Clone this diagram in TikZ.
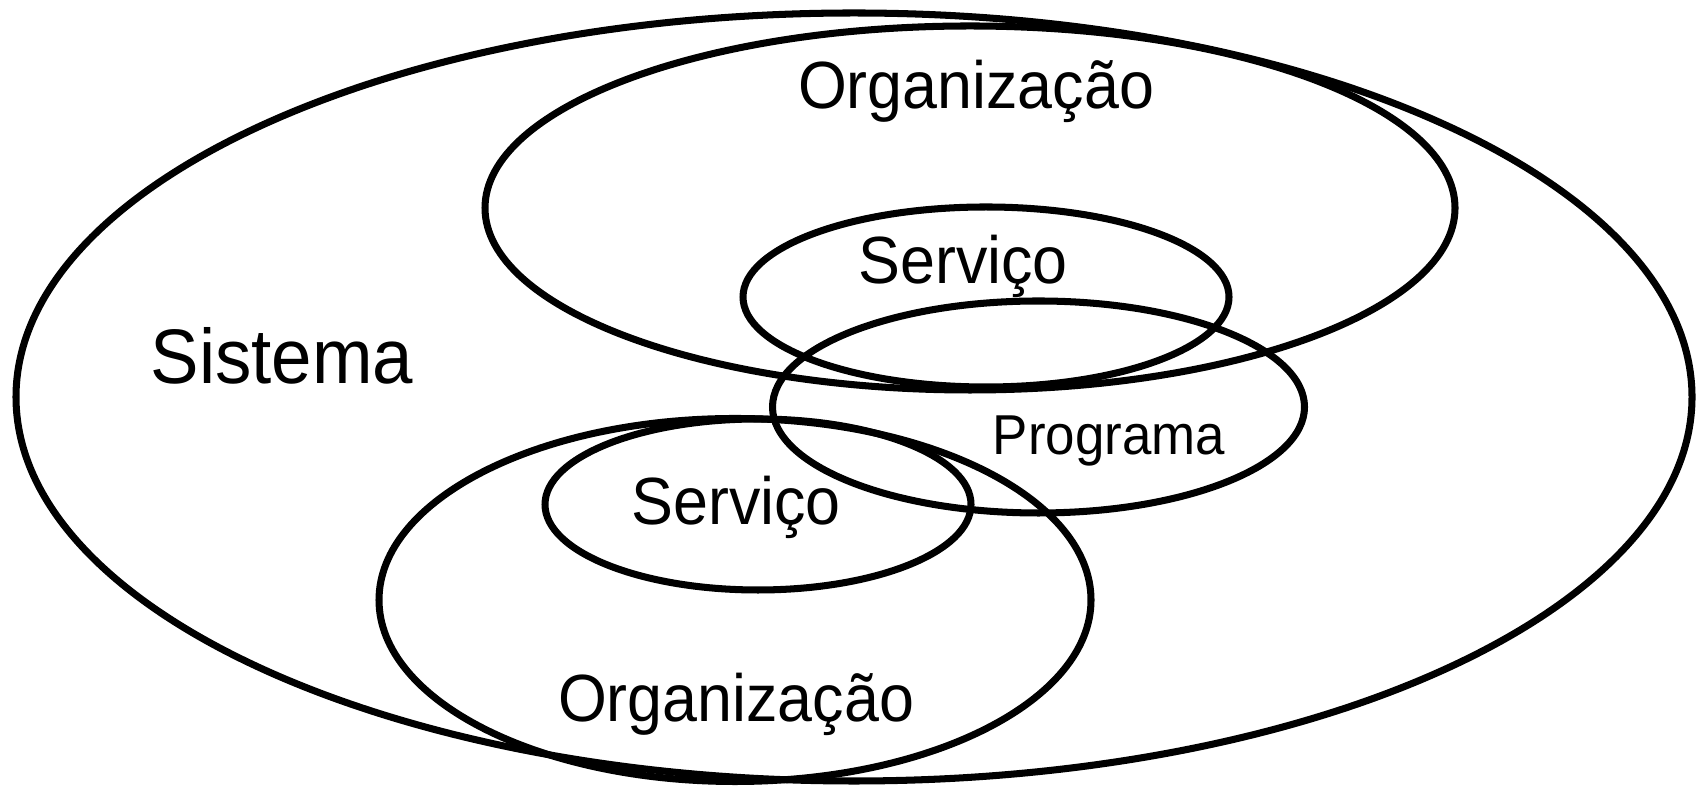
\documentclass[tikz,border=0pt]{standalone}
\usepackage{fontspec}
\setmainfont{Liberation Sans}[FakeStretch=0.94]

\tikzset{
  nametxt/.style={anchor=base, inner sep=0pt, font=\fontsize{19}{23}\selectfont},
}

\begin{document}
\begin{tikzpicture}[line width=2pt]
%
\path[use as bounding box] (0,0) rectangle (16.98,7.86);
%
\newcommand{\blob}[4]{
  \draw (#1,#2) ellipse [x radius=#3, y radius=#4];
}
%
\blob{8.54}{3.89}{8.38}{3.84}   % sistema
\blob{9.70}{5.78}{4.85}{1.82}   % organizacao, top
\blob{9.86}{4.89}{2.43}{0.90}   % servico, top
\blob{10.385}{3.79}{2.66}{1.06} % programa
\blob{7.58}{2.815}{2.13}{0.855} % servico, bottom
\blob{7.35}{1.86}{3.56}{1.815}  % organizacao, bottom
%
\node[nametxt, font=\fontsize{22}{26}\selectfont] (sis) at (2.82,4.02) {Sistema};
\node[nametxt] (orgtop) at (9.76,6.77) {Organização};
\node[nametxt] (servtop) at (9.63,5.02) {Serviço};
\node[nametxt, font=\fontsize{16}{19}\selectfont] (prog) at (11.09,3.31) {Programa};
\node[nametxt] (servbot) at (7.36,2.61) {Serviço};
\node[nametxt] (orgbot) at (7.36,0.64) {Organização};
%
\end{tikzpicture}
\end{document}
